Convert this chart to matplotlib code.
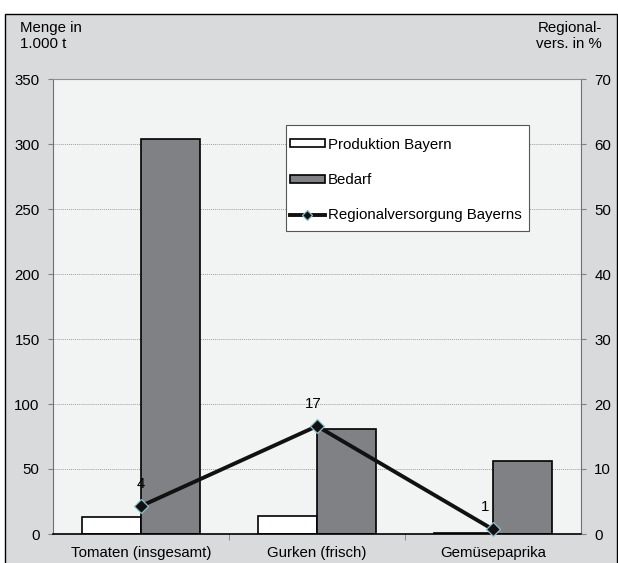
import numpy as np
import matplotlib.pyplot as plt
from matplotlib.patches import Rectangle

plt.rcParams['font.family'] = ['Liberation Sans', 'DejaVu Sans']
plt.rcParams['font.size'] = 10.8

# Daten
kategorien = ["Tomaten (insgesamt)", "Gurken (frisch)", "Gemüsepaprika"]
produktion = [13, 14, 1]
bedarf = [304, 81, 56]
regionalversorgung = [4.3, 16.6, 0.7]
labels_rv = ["4", "17", "1"]

W, H = 618, 563
fig = plt.figure(figsize=(W / 100, H / 100), dpi=100)
fig.patch.set_facecolor("white")
# grauer Hintergrund mit Rahmen
fig.patches.append(Rectangle((5 / W, 1 - 575 / H), 612 / W, 561 / H,
                             transform=fig.transFigure, facecolor="#d9dadc",
                             edgecolor="black", linewidth=1.0, zorder=-1))

ax = fig.add_axes([53 / W, 1 - 534 / H, 528 / W, 455 / H])
ax.set_facecolor("#f2f3f3")
x = np.arange(len(kategorien))
w = 0.335
ax.bar(x - w / 2, produktion, w, color="white", edgecolor="black", linewidth=1.2,
       label="Produktion Bayern", zorder=2)
ax.bar(x + w / 2, bedarf, w, color="#808184", edgecolor="black", linewidth=1.2,
       label="Bedarf", zorder=2)
ax.set_xlim(-0.5, 2.5)
ax.set_ylim(0, 350)
ax.set_yticks(range(0, 351, 50))
ax.set_xticks(x)
ax.set_xticklabels(kategorien)
ax.set_xticks([0.5, 1.5], minor=True)
ax.tick_params(axis="x", which="major", length=0, pad=9)
ax.tick_params(axis="x", which="minor", length=4, color="#808080")
ax.tick_params(axis="y", length=3.6, color="#808080", pad=6)
ax.grid(axis="y", color="#a0a0a0", linestyle=(0, (1, 1)), linewidth=0.7, zorder=0)
ax.spines["top"].set_color("#909090")
ax.spines["top"].set_linestyle((0, (1, 1)))
ax.spines["left"].set_color("#707070")
ax.spines["right"].set_color("#707070")
ax.spines["bottom"].set_color("black")
ax.spines["bottom"].set_linewidth(1.2)

ax2 = ax.twinx()
ax2.plot(x, regionalversorgung, color="#111111", linewidth=2.8, marker="D",
         markersize=7, markerfacecolor="#111111", markeredgecolor="#8fc0d0",
         markeredgewidth=0.9, label="Regionalversorgung Bayerns", zorder=3,
         clip_on=False)
for xi, yi, t, dx in zip(x, regionalversorgung, labels_rv, [0, -3, -6]):
    ax2.annotate(t, (xi, yi), xytext=(dx, 16), textcoords="offset points",
                 ha="center", va="center")
ax2.set_ylim(0, 70)
ax2.set_yticks(range(0, 71, 10))
ax2.tick_params(axis="y", length=3.6, color="#808080", pad=6)
for s in ax2.spines.values():
    s.set_visible(False)

fig.text(20 / W, 1 - 36 / H, "Menge in\n1.000 t", ha="left", va="center",
         linespacing=1.2)
fig.text(602 / W, 1 - 36 / H, "Regional-\nvers. in %", ha="right", va="center",
         linespacing=1.2)

# Legende: weißer Kasten separat, damit die Abstände passen
ax2.add_patch(Rectangle((0.441, 0.666), 0.4605, 0.233, transform=ax2.transAxes,
                        facecolor="white", edgecolor="#555555", linewidth=0.8,
                        zorder=4))
h1, l1 = ax.get_legend_handles_labels()
h2, l2 = ax2.get_legend_handles_labels()
leg = ax2.legend(h1 + h2, l1 + l2, loc="upper left", bbox_to_anchor=(0.449, 0.871),
                 borderaxespad=0, borderpad=0, frameon=False, labelspacing=1.42,
                 handlelength=2.3, handleheight=0.45, handletextpad=0.2,
                 markerscale=0.7, fontsize=10.8)

fig.savefig("out.png", dpi=100, facecolor=fig.get_facecolor())
